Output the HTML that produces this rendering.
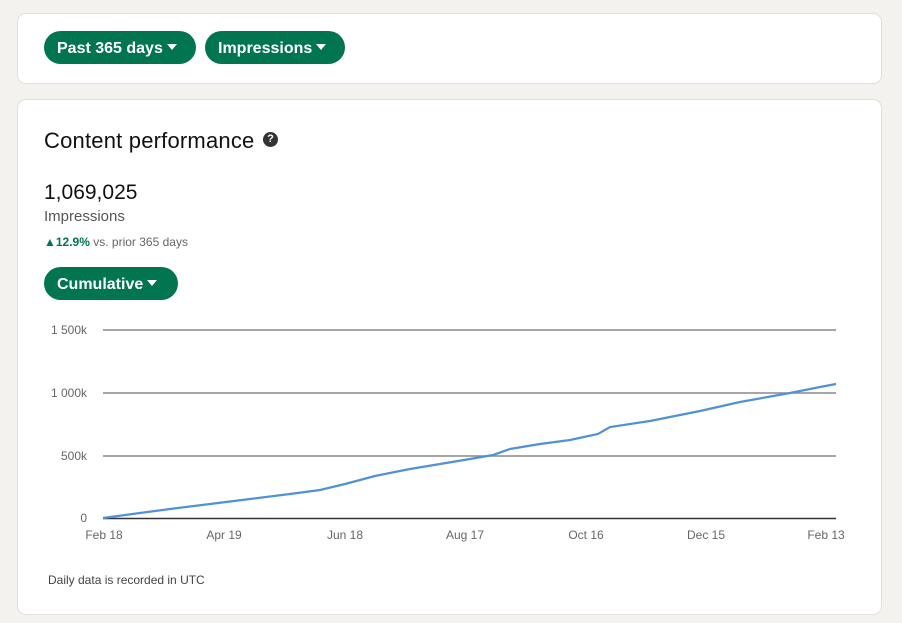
<!DOCTYPE html>
<html><head><style>
body{margin:0;width:902px;height:623px;background:#f3f2ee;font-family:"Liberation Sans",sans-serif;position:relative;overflow:hidden}
.card{position:absolute;left:17px;width:863px;background:#fff;border:1px solid #e2e0dc;border-radius:9px}
.btn{position:absolute;height:33px;background:#01754f;color:#fff;border-radius:17px;font-weight:bold;font-size:16px;line-height:36px;padding:0 0 0 13px;box-sizing:border-box;white-space:nowrap;overflow:hidden}
.btn:after{content:"";display:inline-block;margin-left:4px;border-left:5px solid transparent;border-right:5px solid transparent;border-top:6px solid #fff;vertical-align:3px}
</style></head><body>
<div class="card" style="top:13px;height:69px"></div>
<div class="btn" style="left:44px;top:31px;width:152px">Past 365 days</div>
<div class="btn" style="left:205px;top:31px;width:140px">Impressions</div>
<div class="card" style="top:99px;height:514px"></div>
<div style="position:absolute;left:44px;top:128px;font-size:22px;color:#111;letter-spacing:0.2px">Content performance</div>
<div style="position:absolute;left:263px;top:132px;width:15px;height:15px;border-radius:50%;background:#333;color:#fff;font-size:11px;font-weight:bold;text-align:center;line-height:15px">?</div>
<div style="position:absolute;left:44px;top:181px;font-size:21px;color:#111">1,069,025</div>
<div style="position:absolute;left:44px;top:208px;font-size:15px;color:#555">Impressions</div>
<div style="position:absolute;left:44px;top:235px;font-size:12px;color:#666"><span style="color:#01754f;font-weight:bold">▲12.9%</span> vs. prior 365 days</div>
<div class="btn" style="left:44px;top:267px;width:134px">Cumulative</div>
<svg style="position:absolute;left:0;top:0" width="902" height="623">
<g stroke="#888" stroke-width="1.5"><line x1="103" x2="836" y1="330" y2="330"/><line x1="103" x2="836" y1="393" y2="393"/><line x1="103" x2="836" y1="456" y2="456"/></g>
<line x1="103" x2="836" y1="518.5" y2="518.5" stroke="#333" stroke-width="1.5"/>
<g font-size="12" fill="#666" font-family="Liberation Sans" text-anchor="end"><text x="87" y="334">1 500k</text><text x="87" y="397">1 000k</text><text x="87" y="460">500k</text><text x="87" y="522">0</text></g>
<g font-size="12" fill="#666" font-family="Liberation Sans" text-anchor="middle"><text x="104" y="539">Feb 18</text><text x="224" y="539">Apr 19</text><text x="345" y="539">Jun 18</text><text x="465" y="539">Aug 17</text><text x="586" y="539">Oct 16</text><text x="706" y="539">Dec 15</text><text x="826" y="539">Feb 13</text></g>
<polyline fill="none" stroke="#5191d6" stroke-width="2.2" points="103,518 140,513 170,509 210,504 250,499 290,494 320,490 345,484 375,476 410,469 440,464 470,459 493,455 510,449 540,444 570,440 598,434 610,427 650,421 700,411 740,402 790,393 820,387 836,384"/>
<text x="48" y="584" font-size="12" fill="#444" font-family="Liberation Sans">Daily data is recorded in UTC</text>
</svg>
</body></html>
